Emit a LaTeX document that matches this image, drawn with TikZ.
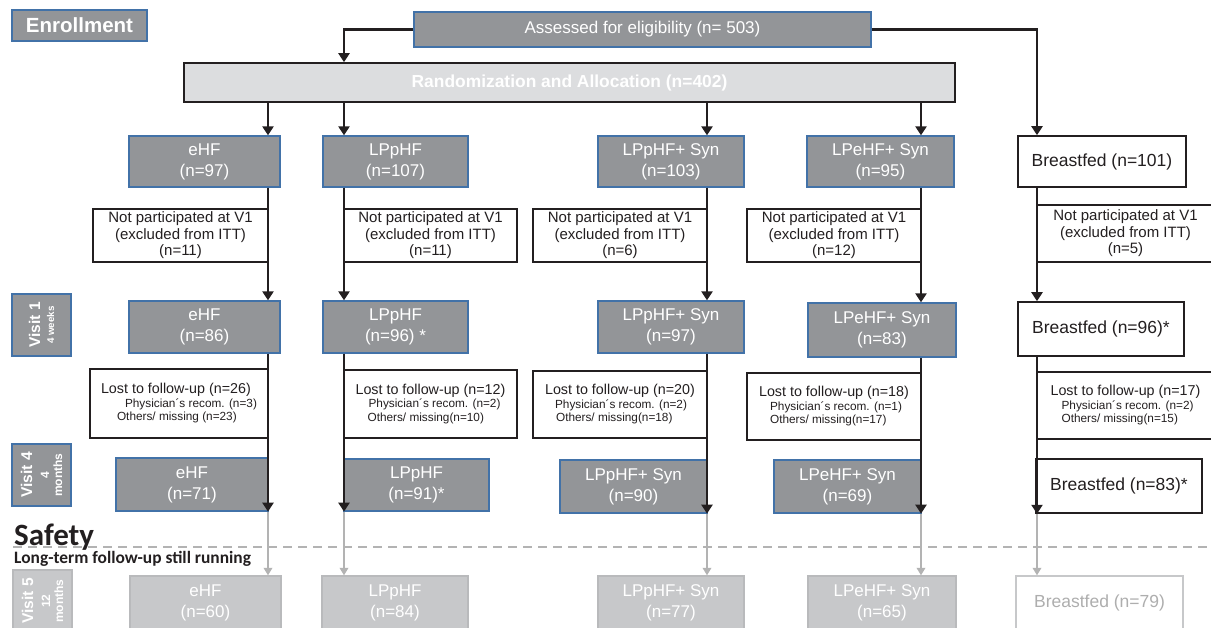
\documentclass[tikz,border=0pt]{standalone}
\usepackage{fontspec}
\setmainfont{Liberation Sans}
\newfontfamily\calib{Carlito}
\usetikzlibrary{arrows.meta}
\definecolor{dk}{HTML}{939598}
\definecolor{bl}{HTML}{4272A8}
\definecolor{rf}{HTML}{DCDDDF}
\definecolor{lf}{HTML}{C7C8CA}
\definecolor{lb}{HTML}{B9BABC}
\definecolor{ga}{HTML}{B3B3B3}
\definecolor{bft}{HTML}{AEAEAE}
\definecolor{ink}{HTML}{231F20}
\newcommand\bx[7]{\pgfmathsetmacro\myW{#5-#3}\pgfmathsetmacro\myH{#6-#4}%
  \node[#2,minimum width=\myW pt,minimum height=\myH pt] (#1) at ({(#3+#5)/2},{(#4+#6)/2}) {#7};}
\newcommand\subf{\fontsize{11.8}{13}\selectfont}
\newcommand\losttxt[5]{Lost to follow-up (#1)\\{\subf\hspace*{#2pt}Physician\textasciiacute s recom. (#3)}\\{\subf\hspace*{#4pt}#5}}
\newcommand\excltxt[1]{Not participated at V1\\(excluded from ITT)\\(#1)}
\tikzset{
  grp/.style={draw=bl, fill=dk, line width=1.3pt, text=white, font=\fontsize{17}{21}\selectfont, align=center, inner sep=0pt},
  bfbox/.style={draw=ink, fill=white, line width=1.6pt, text=ink, font=\fontsize{17.5}{21}\selectfont, inner sep=0pt},
  excl/.style={draw=ink, fill=white, line width=1.6pt, text=ink, font=\fontsize{15}{16.5}\selectfont, align=center, inner sep=0pt},
  lost/.style={draw=ink, fill=white, line width=1.6pt, text=ink, font=\fontsize{14.3}{13.5}\selectfont, align=left, inner sep=0pt},
  vfive/.style={draw=lb, fill=lf, line width=1.3pt, text=white, font=\fontsize{17}{21}\selectfont, align=center, inner sep=0pt},
  vfivebf/.style={draw=lf, fill=white, line width=1.3pt, text=bft, font=\fontsize{17.5}{21}\selectfont, inner sep=0pt},
  vis/.style={draw=bl, fill=dk, line width=1.3pt, text=white, align=center, rotate=90, inner sep=0pt, font=\bfseries\fontsize{12}{13}\selectfont},
  visl/.style={draw=lb, fill=lf, line width=1.3pt, text=white, align=center, rotate=90, inner sep=0pt, font=\bfseries\fontsize{12}{13}\selectfont},
  arr/.style={line width=2.6pt, draw=ink, -{Triangle[width=11pt,length=9pt]}},
  garr/.style={line width=1.8pt, draw=ga, -{Triangle[width=8.5pt,length=7.5pt]}, color=ga},
  dline/.style={line width=2pt, draw=ga, dash pattern=on 9pt off 6pt},
}
\begin{document}
\begin{tikzpicture}[x=1pt,y=-1pt]
\useasboundingbox (0,0) rectangle (1211,627);
% header
\bx{enr}{draw=bl, fill=dk, line width=1.3pt, text=white, font=\bfseries\fontsize{20.5}{22}\selectfont, inner sep=0pt}{12}{10}{147}{41}{Enrollment}
\bx{assess}{grp}{414}{12}{871}{47}{Assessed for eligibility (n= 503)}
\bx{rand}{draw=ink, fill=rf, line width=1.6pt, text=white, font=\bfseries\fontsize{17.4}{20}\selectfont, inner sep=0pt}{184}{63}{955}{102}{Randomization and Allocation (n=402)}
% row 1
\bx{g1a}{grp}{129}{136}{280}{187}{eHF\\(n=97)}
\bx{g1b}{grp}{323}{136}{468}{187}{LPpHF\\(n=107)}
\bx{g1c}{grp}{598}{136}{744}{187}{LPpHF+ Syn\\(n=103)}
\bx{g1d}{grp}{807}{136}{954}{187}{LPeHF+ Syn\\(n=95)}
\bx{g1e}{bfbox}{1018}{136}{1186}{187}{Breastfed (n=101)}
% exclusions
\bx{xa}{excl}{93}{209}{268}{262}{\excltxt{n=11}}
\bx{xb}{excl}{344}{209}{517}{262}{\excltxt{n=11}}
\bx{xc}{excl}{533}{209}{707}{262}{\excltxt{n=6}}
\bx{xd}{excl}{747}{209}{921}{262}{\excltxt{n=12}}
\bx{xe}{excl}{1037}{205}{1214}{262}{\excltxt{n=5}}
% visit 1
\bx{v1a}{grp}{129}{301}{280}{353}{eHF\\(n=86)}
\bx{v1b}{grp}{323}{301}{468}{353}{LPpHF\\(n=96) *}
\bx{v1c}{grp}{598}{301}{744}{353}{LPpHF+ Syn\\(n=97)}
\bx{v1d}{grp}{808}{303}{956}{357}{LPeHF+ Syn\\(n=83)}
\bx{v1e}{bfbox}{1018}{302}{1184}{356}{Breastfed (n=96)*}
% lost
\bx{la}{lost}{90}{369}{268}{438}{\losttxt{n=26}{24}{n=3}{16}{Others/ missing (n=23)}}
\bx{lb}{lost}{344}{370}{517}{438}{\losttxt{n=12}{13}{n=2}{12}{Others/ missing(n=10)}}
\bx{lc}{lost}{533}{371}{707}{438}{\losttxt{n=20}{10}{n=2}{11}{Others/ missing(n=18)}}
\bx{ld}{lost}{747}{373}{921}{440}{\losttxt{n=18}{11}{n=1}{11}{Others/ missing(n=17)}}
\bx{le}{lost}{1037}{372}{1214}{439}{\losttxt{n=17}{11}{n=2}{11}{Others/ missing(n=15)}}
% visit 4
\bx{w4a}{grp}{116}{458}{268}{511}{eHF\\(n=71)}
\bx{w4b}{grp}{344}{459}{489}{511}{LPpHF\\(n=91)*}
\bx{w4c}{grp}{560}{460}{707}{513}{LPpHF+ Syn\\(n=90)}
\bx{w4d}{grp}{774}{460}{921}{513}{LPeHF+ Syn\\(n=69)}
\bx{w4e}{bfbox}{1036}{459}{1202}{513}{Breastfed (n=83)*}
% visit 5
\bx{w5a}{vfive}{130}{576}{281}{630}{eHF\\(n=60)}
\bx{w5b}{vfive}{322}{576}{468}{630}{LPpHF\\(n=84)}
\bx{w5c}{vfive}{598}{576}{744}{630}{LPpHF+ Syn\\(n=77)}
\bx{w5d}{vfive}{808}{576}{956}{630}{LPeHF+ Syn\\(n=65)}
\bx{w5e}{vfivebf}{1016}{576}{1183}{630}{Breastfed (n=79)}
% visit labels
\node[vis, minimum width=62pt, minimum height=59pt] (vis1) at (41.5,325)
  {{\fontsize{15.5}{16}\selectfont Visit 1}\\[1pt]{\fontsize{9.8}{10}\selectfont 4 weeks}};
\node[vis, minimum width=62pt, minimum height=59pt] (vis4) at (41.5,475)
  {{\fontsize{15.6}{16}\selectfont Visit 4}\\[4pt]4\\months};
\node[visl, minimum width=62pt, minimum height=59pt] (vis5) at (42.5,601)
  {{\fontsize{15.6}{16}\selectfont Visit 5}\\[4pt]12\\months};
% safety
\coordinate (dl) at (13,547);
\coordinate (dr) at (1211,547);
\draw[dline] (dl) -- (dr);
\node[anchor=base west, inner sep=0pt, text=ink, font=\calib\bfseries\fontsize{31}{31}\selectfont] (safety) at (14,545) {Safety};
\node[anchor=base west, inner sep=0pt, text=ink, font=\calib\bfseries\fontsize{17.4}{17}\selectfont] (lt) at (14,563) {Long-term follow-up still running};
% connectors
\coordinate (ca) at (268,0);
\coordinate (cb) at (344,0);
\coordinate (cc) at (707,0);
\coordinate (cd) at (921,0);
\coordinate (ce) at (1037,0);
\draw[arr] (assess.west) -| (rand.north -| cb);
\draw[arr] (assess.east) -| (g1e.north -| ce);
\foreach \c/\g in {ca/g1a,cb/g1b,cc/g1c,cd/g1d}
  \draw[arr] (rand.south -| \c) -- (\g.north -| \c);
\foreach \c/\g/\v/\w/\f in {ca/g1a/v1a/w4a/w5a,cb/g1b/v1b/w4b/w5b,cc/g1c/v1c/w4c/w5c,cd/g1d/v1d/w4d/w5d,ce/g1e/v1e/w4e/w5e}{
  \draw[arr] (\g.south -| \c) -- (\v.north -| \c);
  \draw[arr] (\v.south -| \c) -- (\w.south -| \c);
  \draw[garr] (\w.south -| \c) -- (\f.north -| \c);
}
\end{tikzpicture}
\end{document}
